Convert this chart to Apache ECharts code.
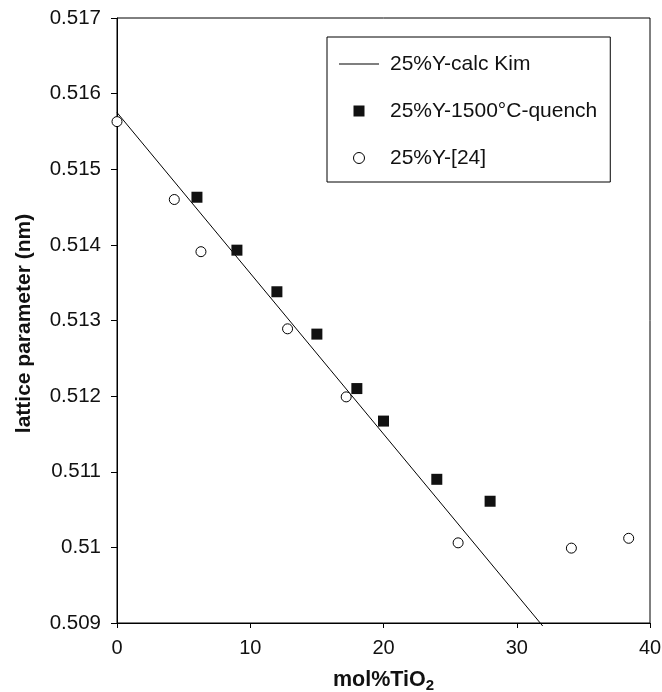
<!DOCTYPE html>
<html>
<head>
<meta charset="utf-8">
<script src="https://cdn.jsdelivr.net/npm/echarts@6/dist/echarts.min.js"></script>
<style>html,body{margin:0;padding:0;background:#fff;}#c{width:662px;height:692px;}</style>
</head>
<body>
<div id="c"></div>
<script>
// ---- data ----
const seriesNames = ['25%Y-calc Kim', '25%Y-1500\u00B0C-quench', '25%Y-[24]'];
const calcLine = [[0, 0.51575], [31.95, 0.50896]];
const quenchX = [6, 9, 12, 15, 18, 20, 24, 28];
const quenchY = [0.51463, 0.51393, 0.51338, 0.51282, 0.51210, 0.51167, 0.51090, 0.51061];
const refX = [0, 4.3, 6.3, 12.8, 17.2, 25.6, 34.1, 38.4];
const refY = [0.51563, 0.51460, 0.51391, 0.51289, 0.51199, 0.51006, 0.50999, 0.51012];
const xTickLabels = ['0', '10', '20', '30', '40'];
const yTickLabels = ['0.509', '0.51', '0.511', '0.512', '0.513', '0.514', '0.515', '0.516', '0.517'];

const font = 'Liberation Sans, Arial, sans-serif';
const txt = '#111';
const pair = (xs, ys) => xs.map((x, i) => [x, ys[i]]);

const chart = echarts.init(document.getElementById('c'), null, {renderer: 'canvas'});
chart.setOption({
  animation: false,
  backgroundColor: '#fff',
  grid: {left: 117, right: 12, top: 18, bottom: 69, show: true, borderColor: '#000', borderWidth: 1,
    containLabel: false, outerBoundsMode: 'none'},
  legend: {
    orient: 'vertical', left: 327, top: 37,
    padding: [15, 13, 12, 12], itemGap: 23,
    itemWidth: 40, itemHeight: 11,
    borderColor: '#000', borderWidth: 1,
    selectedMode: false,
    textStyle: {fontSize: 21, color: txt, fontFamily: font, lineHeight: 24, padding: [0, 0, 0, 6]},
    data: [
      {name: seriesNames[0], icon: 'path://M0,0L40,0L40,1L0,1Z', itemStyle: {color: '#000', opacity: 1}},
      {name: seriesNames[1], icon: 'path://M0,0L10,0L10,10L0,10Z', itemStyle: {color: '#111', opacity: 1}},
      {name: seriesNames[2], icon: 'circle', itemStyle: {color: '#fff', borderColor: '#000', borderWidth: 1, opacity: 1}}
    ]
  },
  xAxis: {
    type: 'value', min: 0, max: 40, interval: 10,
    name: '{a|mol%TiO}{b|2}', nameLocation: 'middle', nameGap: 45,
    nameTextStyle: {
      rich: {
        a: {fontSize: 21.5, fontWeight: 'bold', fontFamily: font, color: txt},
        b: {fontSize: 15, fontWeight: 'bold', fontFamily: font, color: txt, padding: [10, 0, 0, 0]}
      }
    },
    axisLine: {show: true, onZero: false, lineStyle: {color: '#000', width: 1}},
    axisTick: {show: true, inside: false, length: 5, lineStyle: {color: '#000'}},
    axisLabel: {fontSize: 20, color: txt, fontFamily: font, margin: 15,
      formatter: (v) => xTickLabels[Math.round(v / 10)]},
    splitLine: {show: false}
  },
  yAxis: {
    type: 'value', min: 0.509, max: 0.517, interval: 0.001,
    name: 'lattice parameter (nm)', nameLocation: 'middle', nameGap: 82,
    nameTextStyle: {fontSize: 21, fontWeight: 'bold', fontFamily: font, color: txt, padding: [0, 6, 0, 0]},
    axisLine: {show: true, onZero: false, lineStyle: {color: '#000', width: 1}},
    axisTick: {show: true, inside: false, length: 6, lineStyle: {color: '#000'}},
    axisLabel: {fontSize: 20.5, color: txt, fontFamily: font, margin: 16,
      formatter: (v) => yTickLabels[Math.round((v - 0.509) / 0.001)]},
    splitLine: {show: false}
  },
  series: [
    {name: seriesNames[0], type: 'line', data: calcLine, symbol: 'none', clip: false,
      lineStyle: {color: '#000', width: 1}, itemStyle: {color: '#000'}, z: 2},
    {name: seriesNames[1], type: 'scatter', data: pair(quenchX, quenchY), symbol: 'rect', symbolSize: 11,
      itemStyle: {color: '#111', opacity: 1}, z: 3},
    {name: seriesNames[2], type: 'scatter', data: pair(refX, refY), symbol: 'circle', symbolSize: 10,
      itemStyle: {color: '#fff', borderColor: '#000', borderWidth: 1, opacity: 1}, z: 4}
  ]
});
</script>
</body>
</html>
